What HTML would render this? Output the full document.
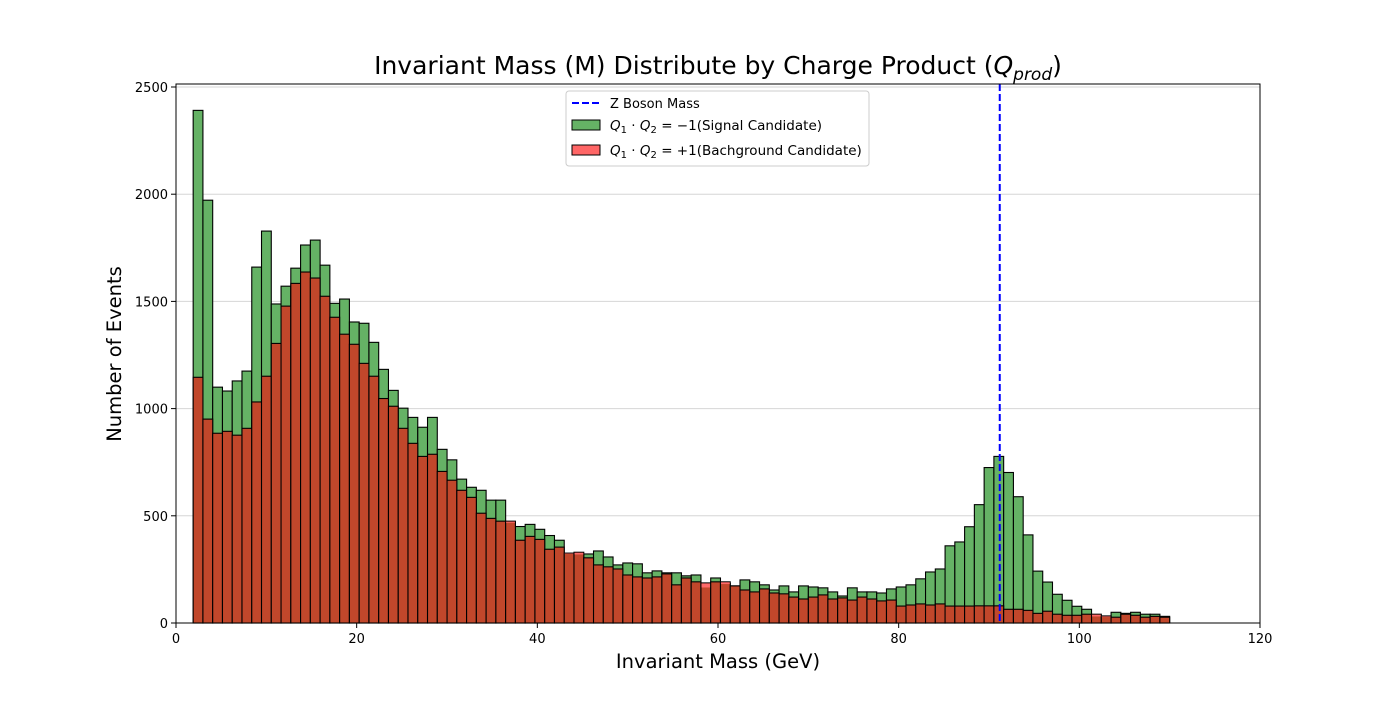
<!DOCTYPE html>
<html><head><meta charset="utf-8"><style>
body{margin:0;background:#fff;}
svg text{font-family:"DejaVu Sans","Liberation Sans",sans-serif;}
</style></head><body>
<svg id="chart" width="1400" height="700" viewBox="0 0 1400 700">
<g id="grid"></g><g id="bars"></g><g id="axes"></g>
</svg>
<script>
const binStart = 1.9;
const binWidth = 1.081;
const signalCounts = [2391,1972,1100,1082,1129,1175,1660,1828,1488,1571,1655,1763,1786,1669,1491,1511,1404,1398,1309,1183,1085,1002,959,913,959,810,761,671,633,619,573,573,470,450,460,437,408,386,324,322,322,336,308,271,280,276,234,243,234,234,220,224,168,210,184,173,201,192,178,154,173,145,173,168,164,145,126,164,145,145,140,159,168,178,206,238,252,360,378,449,552,725,777,702,589,411,242,191,134,106,78,64,33,30,50,45,50,41,41,31];
const backgroundCounts = [1146,951,885,894,876,908,1031,1151,1304,1478,1584,1637,1609,1524,1426,1347,1300,1211,1151,1047,1011,908,838,777,787,707,666,619,586,512,488,475,475,386,404,390,344,354,326,330,304,271,262,252,224,215,210,215,229,178,210,192,187,192,192,173,154,145,159,140,136,121,112,121,131,112,117,107,121,112,103,107,79,84,89,84,89,79,79,79,80,80,80,64,64,59,45,55,41,36,36,41,41,33,27,41,36,27,31,27];
const xTicks = [0,20,40,60,80,100,120];
const yTicks = [0,500,1000,1500,2000,2500];
const zMass = 91.19;

const NS='http://www.w3.org/2000/svg';
const L=176,R=1260,T=84,B=623;
const xs=v=>L+(v-0)/120*(R-L);
const ys=v=>B-v*0.2144;
function mk(tag,attrs,parent,text){const e=document.createElementNS(NS,tag);for(const k in attrs)e.setAttribute(k,attrs[k]);if(text!==undefined)e.textContent=text;document.getElementById(parent).appendChild(e);return e;}
yTicks.forEach(t=>{if(t===0)return;const g=mk('line',{x1:L,x2:R,y1:ys(t),y2:ys(t),stroke:'#d6d6d6','stroke-width':1},'grid');

});
signalCounts.forEach((v,i)=>{const x0=xs(binStart+i*binWidth),x1=xs(binStart+(i+1)*binWidth);
const b=mk('rect',{x:x0,y:ys(v),width:x1-x0,height:B-ys(v),fill:'#65b265',stroke:'#000','stroke-width':1.1},'bars');

});
backgroundCounts.forEach((v,i)=>{const x0=xs(binStart+i*binWidth),x1=xs(binStart+(i+1)*binWidth);const g=signalCounts[i];
const b=mk('rect',{x:x0,y:ys(v),width:x1-x0,height:B-ys(v),fill:'#c1472b',stroke:'#000','stroke-width':1.1},'bars');


if(v>g){const t=mk('rect',{x:x0+0.5,y:ys(v)+0.5,width:x1-x0-1,height:ys(g)-ys(v),fill:'#ff6a6a'},'bars');

}});
const zl=mk('line',{x1:xs(zMass),x2:xs(zMass),y1:T,y2:B,stroke:'#0000ff','stroke-width':2,'stroke-dasharray':'7,3'},'bars');


const fr=mk('rect',{x:L,y:T,width:R-L,height:B-T,fill:'none',stroke:'#000','stroke-width':1},'axes');


xTicks.forEach(t=>{mk('line',{x1:xs(t),x2:xs(t),y1:B,y2:B+5,stroke:'#000'},'axes');
const l=mk('text',{x:xs(t),y:B+20,'font-size':13,'text-anchor':'middle'},'axes',t);

});
yTicks.forEach(t=>{mk('line',{x1:L-5,x2:L,y1:ys(t),y2:ys(t),stroke:'#000'},'axes');
const l=mk('text',{x:L-8,y:ys(t)+5,'font-size':13,'text-anchor':'end'},'axes',t);

});
</script>
<svg width="1400" height="700" style="position:absolute;left:0;top:0">
<text x="718" y="74" font-size="25" text-anchor="middle" font-family="DejaVu Sans, sans-serif">Invariant Mass (M) Distribute by Charge Product (<tspan font-style="italic">Q</tspan><tspan font-size="17" dy="6" font-style="italic">prod</tspan><tspan dy="-6">)</tspan></text>
<text x="718" y="668" font-size="19.5" text-anchor="middle" font-family="DejaVu Sans, sans-serif">Invariant Mass (GeV)</text>
<text x="121" y="354" font-size="19.5" text-anchor="middle" transform="rotate(-90 121 354)" font-family="DejaVu Sans, sans-serif">Number of Events</text>
<g font-family="DejaVu Sans, sans-serif" font-size="13">
<rect x="566" y="91" width="303" height="75" rx="3" fill="#fff" fill-opacity="0.85" stroke="#ccc"/>
<line x1="572" y1="103" x2="600" y2="103" stroke="#0000ff" stroke-width="2" stroke-dasharray="7,3"/>
<text x="610" y="108">Z Boson Mass</text>
<rect x="572" y="120" width="28" height="10" fill="#65b265" stroke="#000"/>
<text x="610" y="130" font-size="13.5"><tspan font-style="italic">Q</tspan><tspan font-size="10" dy="3">1</tspan><tspan dy="-3"> · </tspan><tspan font-style="italic">Q</tspan><tspan font-size="10" dy="3">2</tspan><tspan dy="-3"> = −1(Signal Candidate)</tspan></text>
<rect x="572" y="145" width="28" height="10" fill="#ff6666" stroke="#000"/>
<text x="610" y="155" font-size="13.5"><tspan font-style="italic">Q</tspan><tspan font-size="10" dy="3">1</tspan><tspan dy="-3"> · </tspan><tspan font-style="italic">Q</tspan><tspan font-size="10" dy="3">2</tspan><tspan dy="-3"> = +1(Bachground Candidate)</tspan></text>
</g>
</svg>
</body></html>
